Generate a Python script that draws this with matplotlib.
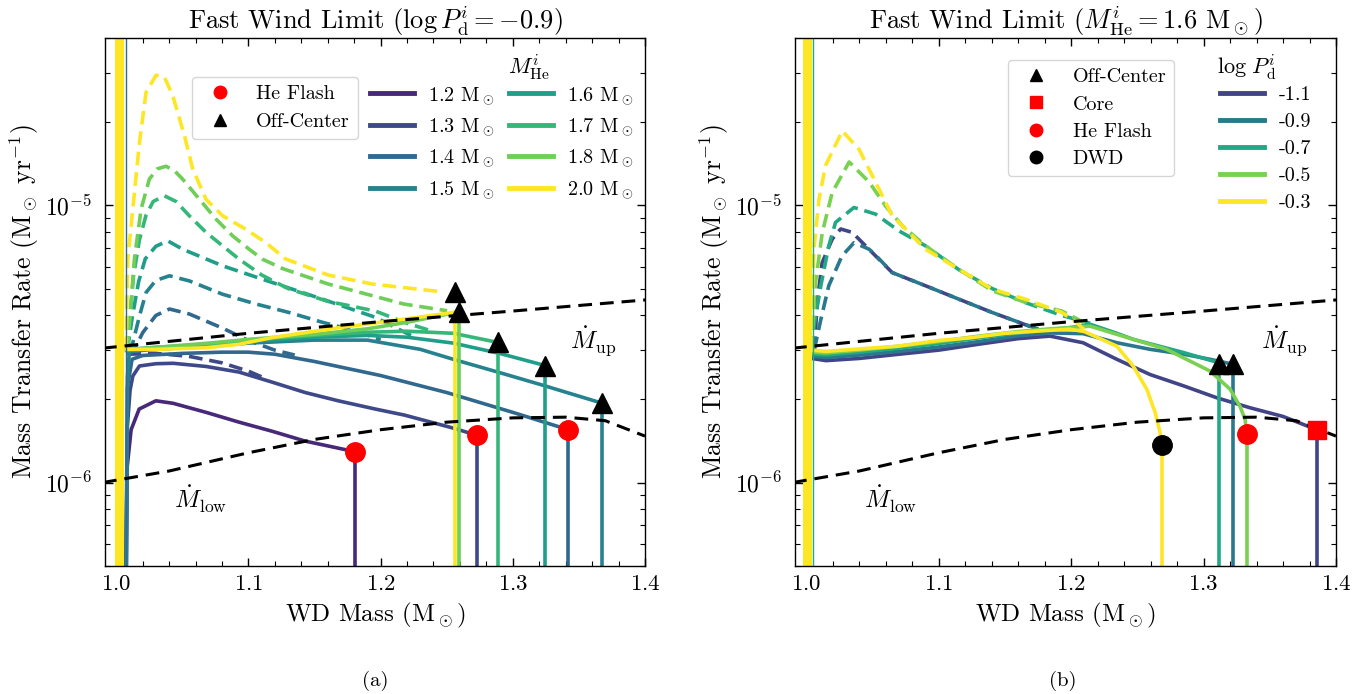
import matplotlib.pyplot as plt
import numpy as np
from matplotlib.lines import Line2D
from matplotlib.ticker import MultipleLocator

plt.rcParams['font.family'] = 'serif'
plt.rcParams['font.serif'] = ['cmr10']
plt.rcParams['mathtext.fontset'] = 'cm'
plt.rcParams['axes.formatter.use_mathtext'] = True
plt.rcParams['font.size'] = 16
plt.rcParams['axes.linewidth'] = 1.0

# ---------------- shared limits (M_dot_up / M_dot_low) ----------------
up_x = [0.99, 1.1, 1.2, 1.3, 1.4]
up_y = [3.05e-6, 3.45e-6, 3.8e-6, 4.15e-6, 4.55e-6]
low_x = [0.99, 1.04, 1.1, 1.15, 1.2, 1.25, 1.3, 1.34, 1.37, 1.4]
low_y = [1.0e-6, 1.1e-6, 1.28e-6, 1.43e-6, 1.55e-6, 1.65e-6, 1.71e-6, 1.72e-6, 1.67e-6, 1.47e-6]

# ---------------- panel (a): log P_d = -0.9, various M_He ----------------
a_masses = [1.2, 1.3, 1.4, 1.5, 1.6, 1.7, 1.8, 2.0]
a_solid_x = [
    [1.0072, 1.0080, 1.0113, 1.0174, 1.030, 1.043, 1.068, 1.093, 1.118, 1.143, 1.168, 1.181],
    [1.0074, 1.0085, 1.0105, 1.0126, 1.0176, 1.030, 1.043, 1.068, 1.093, 1.118, 1.143, 1.168, 1.196, 1.218, 1.253, 1.273],
    [1.0076, 1.0085, 1.012, 1.02, 1.05, 1.08, 1.10, 1.12, 1.15, 1.20, 1.25, 1.30, 1.342],
    [1.0076, 1.0085, 1.01, 1.03, 1.07, 1.10, 1.15, 1.19, 1.23, 1.255, 1.29, 1.323, 1.3678],
    [1.0065, 1.01, 1.03, 1.07, 1.10, 1.15, 1.19, 1.22, 1.255, 1.29, 1.3245],
    [1.0065, 1.01, 1.03, 1.07, 1.10, 1.15, 1.19, 1.22, 1.255, 1.2885],
    [1.0065, 1.01, 1.03, 1.07, 1.10, 1.15, 1.19, 1.22, 1.259],
    [1.0065, 1.0075, 1.030, 1.068, 1.093, 1.118, 1.143, 1.168, 1.196, 1.223, 1.2566],
]
a_solid_y = [
    [4.0e-7, 1.1e-6, 1.55e-6, 1.84e-6, 1.97e-6, 1.93e-6, 1.79e-6, 1.65e-6, 1.53e-6, 1.41e-6, 1.33e-6, 1.29e-6],
    [4.0e-7, 1.6e-6, 2.15e-6, 2.42e-6, 2.63e-6, 2.68e-6, 2.69e-6, 2.62e-6, 2.50e-6, 2.30e-6, 2.11e-6, 1.97e-6, 1.84e-6, 1.75e-6, 1.58e-6, 1.48e-6],
    [4.0e-7, 2.2e-6, 2.78e-6, 2.87e-6, 2.92e-6, 2.95e-6, 2.95e-6, 2.90e-6, 2.73e-6, 2.43e-6, 2.11e-6, 1.79e-6, 1.55e-6],
    [4.0e-7, 2.4e-6, 2.97e-6, 3.02e-6, 3.10e-6, 3.18e-6, 3.26e-6, 3.26e-6, 3.02e-6, 2.78e-6, 2.49e-6, 2.24e-6, 1.93e-6],
    [2.99e-6, 2.99e-6, 3.05e-6, 3.13e-6, 3.23e-6, 3.34e-6, 3.39e-6, 3.34e-6, 3.18e-6, 2.92e-6, 2.64e-6],
    [3.02e-6, 3.02e-6, 3.07e-6, 3.15e-6, 3.26e-6, 3.39e-6, 3.48e-6, 3.51e-6, 3.45e-6, 3.20e-6],
    [3.02e-6, 3.02e-6, 3.07e-6, 3.18e-6, 3.28e-6, 3.42e-6, 3.58e-6, 3.78e-6, 4.12e-6],
    [3.02e-6, 3.02e-6, 3.02e-6, 3.06e-6, 3.15e-6, 3.33e-6, 3.47e-6, 3.61e-6, 3.76e-6, 3.91e-6, 4.11e-6],
]
a_dash_x = [
    [],
    [1.0085, 1.03, 1.055, 1.08, 1.10, 1.112],
    [1.0085, 1.012, 1.015, 1.0201, 1.03, 1.0403, 1.0553, 1.0805, 1.10, 1.12, 1.135],
    [1.0085, 1.0126, 1.0176, 1.0226, 1.03, 1.0403, 1.0553, 1.0805, 1.1057, 1.1308, 1.156, 1.181, 1.20],
    [1.0085, 1.012, 1.017, 1.022, 1.03, 1.039, 1.0503, 1.0805, 1.118, 1.156, 1.196, 1.225],
    [1.0085, 1.013, 1.0176, 1.0226, 1.028, 1.0365, 1.0453, 1.0553, 1.068, 1.0805, 1.093, 1.11, 1.13, 1.16, 1.196, 1.22, 1.24],
    [1.0085, 1.0138, 1.0189, 1.0251, 1.031, 1.0377, 1.044, 1.0503, 1.0629, 1.0755, 1.088, 1.1006, 1.1107, 1.126, 1.16, 1.194, 1.2174, 1.2503],
    [1.0075, 1.0088, 1.0126, 1.0176, 1.0226, 1.0302, 1.0365, 1.0428, 1.0516, 1.0579, 1.0679, 1.0805, 1.0981, 1.1132, 1.128, 1.16, 1.194, 1.2226, 1.2466],
]
a_dash_y = [
    [],
    [2.9e-6, 2.92e-6, 2.85e-6, 2.70e-6, 2.52e-6, 2.38e-6],
    [2.9e-6, 2.95e-6, 3.1e-6, 3.47e-6, 4.0e-6, 4.22e-6, 4.05e-6, 3.6e-6, 3.25e-6, 3.0e-6, 2.88e-6],
    [2.95e-6, 3.19e-6, 3.98e-6, 4.84e-6, 5.35e-6, 5.56e-6, 5.33e-6, 4.77e-6, 4.40e-6, 4.10e-6, 3.78e-6, 3.52e-6, 3.27e-6],
    [3.0e-6, 3.9e-6, 5.3e-6, 6.4e-6, 7.1e-6, 7.43e-6, 6.93e-6, 6.04e-6, 5.26e-6, 4.58e-6, 3.94e-6, 3.35e-6],
    [3.0e-6, 5.5e-6, 7.5e-6, 9.2e-6, 1.03e-5, 1.08e-5, 1.03e-5, 9.15e-6, 7.97e-6, 7.13e-6, 6.38e-6, 5.6e-6, 5.0e-6, 4.5e-6, 4.15e-6, 3.75e-6, 3.5e-6],
    [3.0e-6, 6.4e-6, 9.7e-6, 1.24e-5, 1.35e-5, 1.38e-5, 1.33e-5, 1.24e-5, 1.05e-5, 8.9e-6, 7.75e-6, 6.93e-6, 6.38e-6, 5.9e-6, 5.2e-6, 4.71e-6, 4.40e-6, 4.16e-6],
    [3.0e-6, 6.4e-6, 9.7e-6, 1.68e-5, 2.55e-5, 2.94e-5, 2.89e-5, 2.48e-5, 1.78e-5, 1.35e-5, 1.05e-5, 9.15e-6, 8.18e-6, 7.32e-6, 6.4e-6, 5.6e-6, 5.19e-6, 5.01e-6, 4.87e-6],
]
# end points
a_flash_x = [1.181, 1.273, 1.342]
a_flash_y = [1.29e-6, 1.48e-6, 1.55e-6]
a_off_x = [1.3678, 1.3245, 1.2885, 1.259, 1.2566]
a_off_y = [1.93e-6, 2.64e-6, 3.20e-6, 4.12e-6, 4.85e-6]
a_band_x = 1.0025   # thick onset band (yellow)
a_spike_x = 1.0078  # thin onset line

# ---------------- panel (b): M_He = 1.6, various log P_d ----------------
b_periods = [-1.1, -0.9, -0.7, -0.5, -0.3]
b_solid_x = [
    [1.004, 1.015, 1.04, 1.07, 1.10, 1.13, 1.16, 1.184, 1.209, 1.2345, 1.2596, 1.2849, 1.31, 1.335, 1.36, 1.3854],
    [1.004, 1.015, 1.04, 1.07, 1.10, 1.13, 1.16, 1.184, 1.209, 1.2345, 1.2596, 1.2849, 1.305, 1.322],
    [1.004, 1.015, 1.04, 1.07, 1.10, 1.13, 1.16, 1.184, 1.2, 1.2143, 1.2345, 1.247, 1.2849, 1.3117],
    [1.004, 1.015, 1.04, 1.07, 1.10, 1.13, 1.16, 1.184, 1.2, 1.2143, 1.2345, 1.272, 1.305, 1.32, 1.3275, 1.3313, 1.3326],
    [1.004, 1.015, 1.04, 1.069, 1.10, 1.123, 1.15, 1.177, 1.199, 1.21, 1.2345, 1.2468, 1.2571, 1.2634, 1.2672, 1.2685],
]
b_solid_y = [
    [2.8e-6, 2.75e-6, 2.8e-6, 2.9e-6, 3.0e-6, 3.15e-6, 3.3e-6, 3.37e-6, 3.19e-6, 2.78e-6, 2.45e-6, 2.23e-6, 2.02e-6, 1.86e-6, 1.73e-6, 1.55e-6],
    [2.85e-6, 2.82e-6, 2.88e-6, 2.97e-6, 3.08e-6, 3.22e-6, 3.38e-6, 3.46e-6, 3.44e-6, 3.19e-6, 3.02e-6, 2.90e-6, 2.78e-6, 2.67e-6],
    [2.9e-6, 2.88e-6, 2.95e-6, 3.05e-6, 3.17e-6, 3.32e-6, 3.46e-6, 3.55e-6, 3.62e-6, 3.72e-6, 3.45e-6, 3.28e-6, 2.94e-6, 2.70e-6],
    [2.95e-6, 2.93e-6, 3.0e-6, 3.1e-6, 3.22e-6, 3.37e-6, 3.5e-6, 3.58e-6, 3.62e-6, 3.66e-6, 3.42e-6, 3.02e-6, 2.52e-6, 2.17e-6, 1.88e-6, 1.69e-6, 1.50e-6],
    [3.0e-6, 2.97e-6, 3.03e-6, 3.1e-6, 3.25e-6, 3.32e-6, 3.45e-6, 3.52e-6, 3.57e-6, 3.5e-6, 3.1e-6, 2.63e-6, 2.17e-6, 1.79e-6, 1.51e-6, 1.37e-6],
]
b_dash_x = [
    [1.006, 1.0085, 1.012, 1.0196, 1.026, 1.0347, 1.0523, 1.0649, 1.09, 1.1152, 1.1404, 1.1606, 1.1826],
    [1.006, 1.011, 1.017, 1.027, 1.0361, 1.0475, 1.0523, 1.0649, 1.09, 1.1152, 1.1404, 1.1606, 1.1826],
    [1.004, 1.0058, 1.011, 1.017, 1.0221, 1.036, 1.0523, 1.07, 1.09, 1.1152, 1.1404, 1.1655, 1.193, 1.2143],
    [1.004, 1.007, 1.0121, 1.0196, 1.0324, 1.0475, 1.06, 1.0725, 1.09, 1.1152, 1.1404, 1.1655, 1.193, 1.204, 1.2143],
    [1.004, 1.0058, 1.0096, 1.0146, 1.0272, 1.0398, 1.0523, 1.0649, 1.0775, 1.09, 1.1152, 1.1404, 1.1655, 1.193, 1.204, 1.21],
]
b_dash_y = [
    [3.0e-6, 4.58e-6, 6.2e-6, 7.54e-6, 8.2e-6, 7.97e-6, 6.56e-6, 5.71e-6, 5.12e-6, 4.58e-6, 4.10e-6, 3.78e-6, 3.45e-6],
    [3.0e-6, 3.87e-6, 5.12e-6, 6.56e-6, 7.32e-6, 6.93e-6, 6.6e-6, 5.71e-6, 5.12e-6, 4.58e-6, 4.10e-6, 3.78e-6, 3.47e-6],
    [3.0e-6, 3.66e-6, 5.12e-6, 7.13e-6, 8.66e-6, 9.8e-6, 9.28e-6, 8.07e-6, 7.13e-6, 5.85e-6, 5.0e-6, 4.45e-6, 4.0e-6, 3.75e-6],
    [3.0e-6, 5.26e-6, 7.97e-6, 1.11e-5, 1.43e-5, 1.21e-5, 9.9e-6, 8.42e-6, 7.13e-6, 5.87e-6, 4.91e-6, 4.46e-6, 4.15e-6, 3.9e-6, 3.66e-6],
    [3.0e-6, 6.93e-6, 1.05e-5, 1.39e-5, 1.85e-5, 1.59e-5, 1.21e-5, 9.15e-6, 7.97e-6, 6.93e-6, 5.87e-6, 4.98e-6, 4.58e-6, 4.10e-6, 3.78e-6, 3.55e-6],
]
b_off_x = [1.3117, 1.322]
b_off_y = [2.67e-6, 2.67e-6]
b_core_x = [1.3854]
b_core_y = [1.55e-6]
b_flash_x = [1.3326]
b_flash_y = [1.50e-6]
b_dwd_x = [1.2685]
b_dwd_y = [1.37e-6]
b_band_x = 1.0008
b_spike_x = 1.0048

cmap = plt.get_cmap('viridis')
a_colors = [cmap((m - 1.1) / 0.9) for m in a_masses]
b_colors = [cmap((p + 1.3) / 1.0) for p in b_periods]

LW = 2.6
YBOT = 1e-8
LEG_FS = 14.5


def draw_tracks(ax, solid_x, solid_y, dash_x, dash_y, colors, band_x, spike_x, spike_c):
    for sx, sy, dx, dy, c in zip(solid_x, solid_y, dash_x, dash_y, colors):
        ax.plot(sx, sy, color=c, lw=LW, solid_capstyle='butt', zorder=2)
        # drop to the bottom at the end of the run
        ax.plot([sx[-1], sx[-1]], [sy[-1], YBOT], color=c, lw=LW, zorder=2)
        if len(dx):
            ax.plot(dx, dy, color=c, lw=LW, ls=(0, (3.8, 1.9)), zorder=2)
    # onset of mass transfer
    ax.plot([spike_x, spike_x], [YBOT, 1e-3], color=spike_c, lw=1.0, zorder=2)
    ax.plot([band_x, band_x], [YBOT, 1e-3], color=colors[-1], lw=6.5, zorder=2)
    # limits
    ax.plot(up_x, up_y, color='k', lw=2.2, ls=(0, (4.5, 2.6)), zorder=3)
    ax.plot(low_x, low_y, color='k', lw=2.2, ls=(0, (4.5, 2.6)), zorder=3)
    ax.text(1.361, 3.23e-6, r'$\dot{M}_{\rm up}$', fontsize=18, ha='center', va='center')
    ax.text(1.064, 8.7e-7, r'$\dot{M}_{\rm low}$', fontsize=18, ha='center', va='center')


def style_axes(ax):
    ax.set_yscale('log')
    ax.set_xlim(0.9915, 1.4)
    ax.set_ylim(5e-7, 4e-5)
    ax.set_xticks([1.0, 1.1, 1.2, 1.3, 1.4])
    ax.xaxis.set_minor_locator(MultipleLocator(0.02))
    ax.tick_params(which='both', direction='in', top=True, right=True)
    ax.tick_params(which='major', length=6, width=1.0)
    ax.tick_params(which='minor', length=3.5, width=0.8)
    ax.tick_params(axis='x', which='major', labelsize=16.5, pad=6)
    ax.tick_params(axis='y', which='major', labelsize=17, pad=9)
    ax.set_xlabel(r'WD Mass (M$_\odot$)', fontsize=18, labelpad=5)
    ax.set_ylabel(r'Mass Transfer Rate (M$_\odot$ yr$^{-1}$)', fontsize=18.5, labelpad=3)


fig, (ax1, ax2) = plt.subplots(1, 2, figsize=(13.7, 6.94))
ax1.set_position([0.0766, 0.1844, 0.3942, 0.7608])
ax2.set_position([0.5803, 0.1844, 0.3949, 0.7608])

# ---- panel (a)
draw_tracks(ax1, a_solid_x, a_solid_y, a_dash_x, a_dash_y, a_colors,
            a_band_x, a_spike_x, a_colors[2])
ax1.plot(a_flash_x, a_flash_y, 'o', color='red', ms=14, zorder=4)
ax1.plot(a_off_x, a_off_y, '^', color='black', ms=14, zorder=4)
style_axes(ax1)
ax1.set_title(r'Fast Wind Limit ($\log P_{\rm d}^{i} = -0.9$)', fontsize=19, pad=6)

mk1 = [Line2D([], [], ls='none', marker='o', color='red', ms=9, label='He Flash'),
       Line2D([], [], ls='none', marker='^', color='black', ms=9, label='Off-Center')]
leg1 = ax1.legend(handles=mk1, loc='upper left', bbox_to_anchor=(0.161, 0.926),
                  borderaxespad=0, fontsize=LEG_FS, labelspacing=0.5)
ax1.add_artist(leg1)
ln1 = [Line2D([], [], color=c, lw=3.5, label='%.1f M$_\\odot$' % m) for m, c in zip(a_masses, a_colors)]
ax1.legend(handles=ln1, ncol=2, loc='upper left', bbox_to_anchor=(0.476, 0.926),
           borderaxespad=0, frameon=False, fontsize=LEG_FS, handlelength=2.2,
           handletextpad=0.7, columnspacing=0.7, labelspacing=0.5)
ax1.text(0.785, 0.945, r'$M_{\rm He}^{i}$', transform=ax1.transAxes, fontsize=16,
         ha='center', va='center')

# ---- panel (b)
draw_tracks(ax2, b_solid_x, b_solid_y, b_dash_x, b_dash_y, b_colors,
            b_band_x, b_spike_x, b_colors[2])
ax2.plot(b_off_x, b_off_y, '^', color='black', ms=14, zorder=4)
ax2.plot(b_core_x, b_core_y, 's', color='red', ms=13, zorder=4)
ax2.plot(b_flash_x, b_flash_y, 'o', color='red', ms=14, zorder=4)
ax2.plot(b_dwd_x, b_dwd_y, 'o', color='black', ms=14, zorder=4)
style_axes(ax2)
ax2.set_title(r'Fast Wind Limit ($M_{\rm He}^{i} = 1.6$ M$_\odot$)', fontsize=19, pad=6)

mk2 = [Line2D([], [], ls='none', marker='^', color='black', ms=9, label='Off-Center'),
       Line2D([], [], ls='none', marker='s', color='red', ms=9, label='Core'),
       Line2D([], [], ls='none', marker='o', color='red', ms=9, label='He Flash'),
       Line2D([], [], ls='none', marker='o', color='black', ms=9, label='DWD')]
leg2 = ax2.legend(handles=mk2, loc='upper left', bbox_to_anchor=(0.394, 0.958),
                  borderaxespad=0, fontsize=LEG_FS, labelspacing=0.45)
ax2.add_artist(leg2)
ln2 = [Line2D([], [], color=c, lw=3.5, label='%.1f' % p) for p, c in zip(b_periods, b_colors)]
ax2.legend(handles=ln2, loc='upper left', bbox_to_anchor=(0.771, 0.925),
           borderaxespad=0, frameon=False, fontsize=LEG_FS, handlelength=2.2,
           handletextpad=0.7, labelspacing=0.45)
ax2.text(0.835, 0.945, r'$\log\,P_{\rm d}^{i}$', transform=ax2.transAxes, fontsize=16,
         ha='center', va='center')

fig.text(0.274, 0.012, '(a)', ha='center', fontsize=15)
fig.text(0.776, 0.012, '(b)', ha='center', fontsize=15)

plt.savefig('out.png', dpi=100)
